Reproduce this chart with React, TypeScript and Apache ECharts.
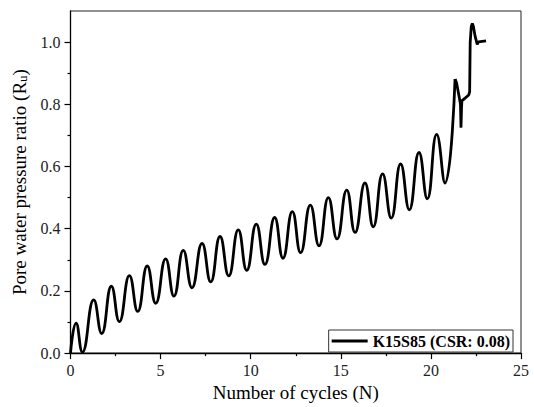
import React, { useEffect, useRef } from 'react';
import * as echarts from 'echarts';

const seriesName = 'K15S85 (CSR: 0.08)';
const xTitle = 'Number of cycles (N)';
const yTitleMain = 'Pore water pressure ratio (R';
const yTitleSub = 'u';

// cyclic build-up: successive peaks and troughs
const cyclicData: [number, number][] = [
  [0, 0], [0.31, 0.096], [0.66, 0.003], [1.29, 0.171], [1.73, 0.063],
  [2.27, 0.215], [2.71, 0.101], [3.27, 0.249], [3.73, 0.134], [4.26, 0.28],
  [4.73, 0.16], [5.28, 0.303], [5.74, 0.183], [6.26, 0.33], [6.74, 0.21],
  [7.3, 0.353], [7.78, 0.229], [8.3, 0.375], [8.78, 0.248], [9.31, 0.396],
  [9.78, 0.266], [10.31, 0.415], [10.79, 0.285], [11.33, 0.436], [11.79, 0.305],
  [12.31, 0.455], [12.77, 0.323], [13.31, 0.476], [13.79, 0.345], [14.31, 0.5],
  [14.79, 0.367], [15.33, 0.524], [15.79, 0.388], [16.34, 0.547], [16.8, 0.406],
  [17.32, 0.576], [17.8, 0.434], [18.32, 0.608], [18.8, 0.461], [19.34, 0.645],
  [19.8, 0.496], [20.32, 0.703], [20.78, 0.547], [21.34, 0.881],
];

// liquefaction stage (sharp changes)
const tailData: [number, number][] = [
  [21.34, 0.881], [21.42, 0.87], [21.5, 0.845], [21.58, 0.82], [21.64, 0.8],
  [21.67, 0.725], [21.7, 0.79], [21.72, 0.812], [21.8, 0.815], [22.1, 0.83],
  [22.15, 0.84], [22.18, 0.998], [22.24, 1.05], [22.3, 1.06], [22.36, 1.05],
  [22.45, 1.02], [22.57, 0.993], [22.64, 1.001], [23.06, 1.004],
];

const yMajorTicks = [0, 0.2, 0.4, 0.6, 0.8, 1.0];
const yMinorTicks = [0.1, 0.3, 0.5, 0.7, 0.9];

const FONT = 'Liberation Serif';
const tickRich = { t: { fontFamily: FONT, fontSize: 16, color: '#222' } };

export default function App() {
  const ref = useRef<HTMLDivElement>(null);
  useEffect(() => {
    const chart = echarts.init(ref.current!, null, { renderer: 'svg' });
    chart.setOption({
      animation: false,
      backgroundColor: '#fff',
      textStyle: { fontFamily: FONT },
      grid: {
        left: 70.5, right: 13, top: 11, bottom: 50,
        show: true, borderColor: '#222', borderWidth: 1, backgroundColor: 'transparent',
      },
      legend: {
        data: [seriesName],
        right: 21, bottom: 55,
        borderColor: '#333', borderWidth: 1,
        padding: [3, 3, 3, 3],
        icon: 'rect',
        itemWidth: 36, itemHeight: 2.8,
        itemStyle: { color: '#000' },
        textStyle: { fontFamily: FONT, fontWeight: 'bold', fontSize: 16, color: '#000' },
      },
      xAxis: {
        type: 'value', min: 0, max: 25, interval: 5,
        name: xTitle, nameLocation: 'middle', nameGap: 29,
        nameTextStyle: { fontFamily: FONT, fontSize: 19, color: '#000' },
        axisLine: { lineStyle: { color: '#000', width: 1.3 } },
        axisTick: { length: 6, lineStyle: { color: '#000', width: 1.2 } },
        minorTick: { show: true, splitNumber: 2, length: 3, lineStyle: { color: '#000', width: 1.2 } },
        axisLabel: {
          fontFamily: FONT, fontSize: 16, color: '#222', margin: 9,
          formatter: (v: number) => '{t|' + v + '}', rich: tickRich,
        },
        splitLine: { show: false },
        minorSplitLine: { show: false },
      },
      yAxis: [
        {
          type: 'value', min: 0, max: 1.1,
          name: yTitleMain + '{sub|' + yTitleSub + '})',
          nameLocation: 'middle', nameGap: 42,
          nameTextStyle: {
            fontFamily: FONT, fontSize: 19, color: '#000',
            rich: { sub: { fontFamily: FONT, fontSize: 13, color: '#000', verticalAlign: 'bottom', padding: [6, 0, 0, 0] } },
          },
          axisLine: { lineStyle: { color: '#000', width: 1.3 } },
          axisTick: { length: 6, customValues: yMajorTicks, lineStyle: { color: '#000', width: 1.2 } },
          axisLabel: {
            customValues: yMajorTicks,
            fontFamily: FONT, fontSize: 16, color: '#222', margin: 10,
            formatter: (v: number) => '{t|' + v.toFixed(1) + '}', rich: tickRich,
          },
          splitLine: { show: false },
        },
        {
          type: 'value', min: 0, max: 1.1, position: 'left',
          axisLine: { show: false },
          axisTick: { length: 3, customValues: yMinorTicks, lineStyle: { color: '#000', width: 1.2 } },
          axisLabel: { show: false },
          splitLine: { show: false },
        },
      ],
      series: [
        {
          name: seriesName, type: 'line', data: cyclicData, smooth: 0.5,
          showSymbol: false, symbol: 'none',
          lineStyle: { color: '#000', width: 2.8 }, itemStyle: { color: '#000' },
        },
        {
          name: 'tail', type: 'line', data: tailData, smooth: false,
          showSymbol: false, symbol: 'none',
          lineStyle: { color: '#000', width: 2.8 }, itemStyle: { color: '#000' },
        },
      ],
    });
    return () => chart.dispose();
  }, []);
  return <div ref={ref} style={{ position: 'fixed', left: 0, top: 0, width: 534, height: 407 }} />;
}
